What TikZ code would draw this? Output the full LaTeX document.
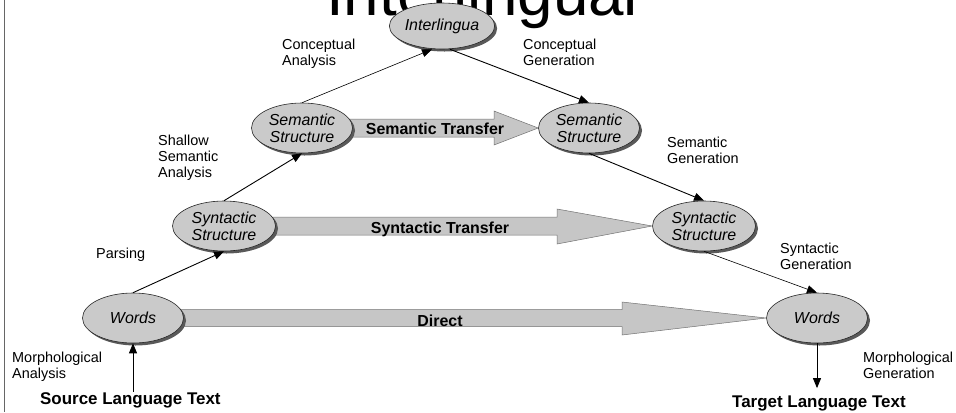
\documentclass[tikz,border=0pt]{standalone}
\usepackage{fontspec}
\setmainfont{Liberation Sans}
\usetikzlibrary{shapes.geometric,shadows,arrows.meta,calc}
\definecolor{ellfill}{RGB}{202,202,202}
\definecolor{fatfill}{RGB}{198,198,198}
\pgfdeclarelayer{background}
\pgfsetlayers{background,main}
\begin{document}
\begin{tikzpicture}[x=1bp,y=-1bp,
  ell/.style={ellipse, draw=black!85, line width=0.6bp, fill=ellfill,
    minimum width=101bp, minimum height=50bp, inner sep=0pt, align=center,
    font=\fontsize{16}{17}\selectfont\itshape,
    drop shadow={shadow xshift=2.5bp, shadow yshift=-2.5bp, fill=black!65, opacity=1}},
  conn/.style={-{Triangle[length=10bp,width=8bp]}, line width=0.9bp},
  thinconn/.style={conn, line width=0.6bp},
  lbl/.style={anchor=north west, align=left, font=\fontsize{14.5}{16}\selectfont, inner sep=0pt},
  fat/.style={fill=fatfill, draw=black!55, line width=0.5bp},
  fatlbl/.style={anchor=base, font=\fontsize{16}{18}\selectfont\bfseries, inner sep=0pt},
  big/.style={anchor=base west, font=\fontsize{17}{19}\selectfont\bfseries, inner sep=0pt}]
\useasboundingbox (0,0) rectangle (956,412);
\clip (0,0) rectangle (956,412);
\begin{pgfonlayer}{background}
\fill[white] (0,0) rectangle (956,412);
\end{pgfonlayer}
\draw[line width=1.3bp, black!60] (4.5,0) -- (4.5,412);

% title
\node[anchor=base west, inner sep=0pt, font=\fontsize{64}{64}\selectfont] (title) at (326,15) {Interlingual};

% ellipses
\node[ell, minimum width=104bp, minimum height=46bp] (inter) at (442,26) {Interlingua};
\node[ell] (semL) at (302,128) {Semantic\\Structure};
\node[ell] (semR) at (589,128) {Semantic\\Structure};
\node[ell, minimum width=103bp] (syL) at (224,226) {Syntactic\\Structure};
\node[ell, minimum width=103bp] (syR) at (704,226) {Syntactic\\Structure};
\node[ell] (wL) at (133,318) {Words};
\node[ell] (wR) at (817,318) {Words};

% fat arrows (behind the ellipses)
\begin{pgfonlayer}{background}
\path[fat] ($(semL.east)+(-3,-9)$) -- (494,119) -- (494,111) -- (semR.west) -- (494,145) -- (494,137) -- ($(semL.east)+(-3,9)$) -- cycle;
\path[fat] ($(syL.east)+(-3,-9)$) -- (557,217) -- (557,209) -- (syR.west) -- (557,244) -- (557,235) -- ($(syL.east)+(-3,9)$) -- cycle;
\path[fat] ($(wL.east)+(-3,-8.5)$) -- (622,309.5) -- (622,302) -- (wR.west) -- (622,335) -- (622,326.5) -- ($(wL.east)+(-3,8.5)$) -- cycle;
\end{pgfonlayer}

\node[fatlbl] (semt) at (435,134) {Semantic Transfer};
\node[fatlbl] (synt) at (440,233) {Syntactic Transfer};
\node[fatlbl] (dirt) at (440,326) {Direct};

% connectors
\draw[conn] (wL.north) -- (syL.south);
\draw[conn] (syL.north) -- (semL.south);
\draw[thinconn] (semL.north) -- ([xshift=-10bp]inter.south);
\draw[conn] ([xshift=8bp]inter.south) -- (semR.north);
\draw[conn] (semR.south) -- (syR.north);
\draw[thinconn] (syR.south) -- (wR.north);

% labels
\node[lbl] (lca) at (282,39) {Conceptual\\Analysis};
\node[lbl] (lcg) at (523,39) {Conceptual\\Generation};
\node[lbl] (lssa) at (158,134.5) {Shallow\\Semantic\\Analysis};
\node[lbl] (lsg) at (667,136.5) {Semantic\\Generation};
\node[lbl] (lpa) at (96,247.5) {Parsing};
\node[lbl] (lsyg) at (780,242.5) {Syntactic\\Generation};
\node[lbl] (lma) at (12,351.5) {Morphological\\Analysis};
\node[lbl] (lmg) at (863,351.5) {Morphological\\Generation};

\node[big] (src) at (40,404) {Source Language Text};
\node[big] (tgt) at (732,407) {Target Language Text};
\draw[conn] (src.north -| wL.south) -- (wL.south);
\draw[conn, shorten >=7bp] (wR.south) -- (wR.south |- tgt.north);
\end{tikzpicture}
\end{document}
